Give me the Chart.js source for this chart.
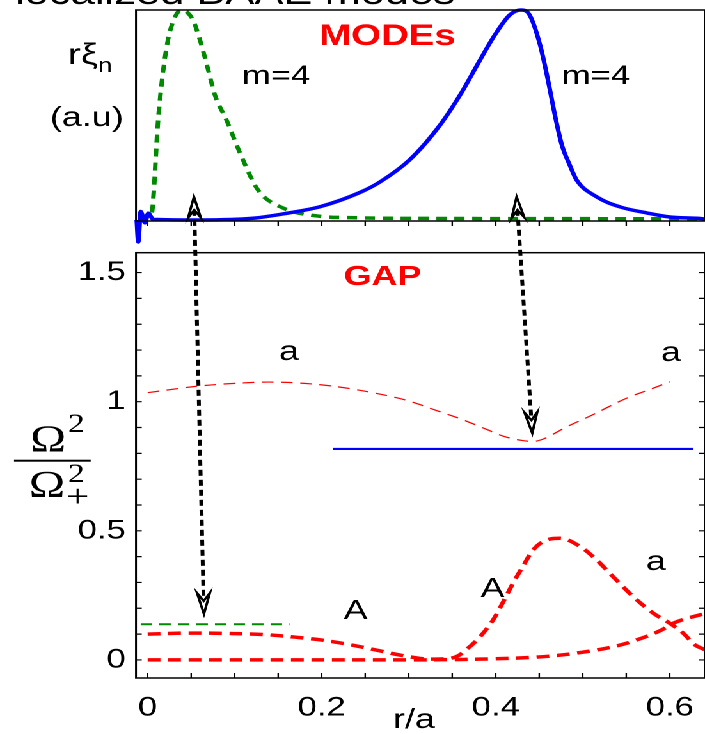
<!DOCTYPE html>
<html>
<head>
<meta charset="utf-8">
<script src="https://cdn.jsdelivr.net/npm/chart.js@4"></script>
<style>
  html, body { margin: 0; padding: 0; background: #fff; }
  body { width: 705px; height: 734px; overflow: hidden; position: relative; }
  #stage { position: absolute; left: 0; top: 0; width: 551px; height: 734px; transform: scaleX(1.27949); transform-origin: 0 0; }
  .layer { position: absolute; left: 0; top: 0; width: 551px; height: 734px; }
</style>
</head>
<body>
<div id="stage">
  <div class="layer"><canvas id="modes" width="551" height="734"></canvas></div>
  <div class="layer"><canvas id="gap" width="551" height="734"></canvas></div>
</div>
<script>
// top panel: mode structures r*xi_n (a.u.)
var greenModeR = [-0.0089, -0.002, 0.0026, 0.0049, 0.0072, 0.0095, 0.0118, 0.0153, 0.0187, 0.0233, 0.029, 0.0348, 0.0394, 0.0452, 0.0521, 0.0601, 0.0681, 0.0773, 0.0911, 0.1061, 0.1268, 0.1555, 0.1946, 0.2325, 0.3475, 0.52, 0.64];
var greenModeV = [0.005, 0.019, 0.014, 0.033, 0.143, 0.31, 0.462, 0.619, 0.738, 0.857, 0.943, 0.99, 1.0, 0.99, 0.952, 0.857, 0.738, 0.595, 0.471, 0.319, 0.143, 0.057, 0.019, 0.011, 0.007, 0.006, 0.005];
var blueModeR = [-0.0126, -0.0108, -0.008, -0.0031, 0.0007, 0.0064, 0.06, 0.121, 0.16, 0.198, 0.244, 0.267, 0.301, 0.336, 0.359, 0.382, 0.399, 0.416, 0.429, 0.439, 0.451, 0.46, 0.468, 0.476, 0.485, 0.493, 0.516, 0.543, 0.574, 0.6, 0.631, 0.64];
var blueModeV = [0, -0.105, 0.04, -0.014, 0.032, 0.003, 0, 0.008, 0.032, 0.063, 0.131, 0.181, 0.286, 0.452, 0.595, 0.762, 0.881, 0.976, 1.0, 0.976, 0.833, 0.667, 0.5, 0.357, 0.262, 0.19, 0.11, 0.062, 0.033, 0.014, 0.008, 0.005];

// bottom panel: gap structure Omega^2 / Omega_+^2
var upperGapR = [0, 0.06, 0.1, 0.14, 0.18, 0.22, 0.26, 0.3, 0.33, 0.36, 0.39, 0.41, 0.43, 0.443, 0.455, 0.48, 0.51, 0.55, 0.58, 0.6];
var upperGapV = [1.035, 1.061, 1.071, 1.076, 1.071, 1.057, 1.034, 1.003, 0.968, 0.933, 0.892, 0.865, 0.85, 0.846, 0.856, 0.9, 0.947, 1.013, 1.051, 1.077];
var lowerAR = [0, 0.05, 0.1, 0.14, 0.17, 0.2, 0.234, 0.26, 0.285, 0.305, 0.323, 0.34, 0.355, 0.368, 0.382, 0.397, 0.408, 0.42, 0.431, 0.443, 0.459, 0.474, 0.497, 0.516, 0.535, 0.558, 0.581, 0.6, 0.615, 0.629, 0.64];
var lowerAV = [0.1, 0.104, 0.102, 0.097, 0.088, 0.077, 0.058, 0.04, 0.022, 0.01, 0.003, 0.004, 0.013, 0.045, 0.09, 0.155, 0.221, 0.298, 0.361, 0.426, 0.465, 0.471, 0.439, 0.387, 0.322, 0.245, 0.181, 0.142, 0.105, 0.058, 0.04];
var lowerBR = [0, 0.1, 0.2, 0.3, 0.38, 0.43, 0.47, 0.5, 0.534, 0.56, 0.59, 0.604, 0.64];
var lowerBV = [0, 0, 0, 0, 0.003, 0.008, 0.017, 0.03, 0.05, 0.075, 0.115, 0.142, 0.18];
var blueFreqR = [0.213, 0.627];
var blueFreqV = [0.817, 0.817];
var greenFreqR = [-0.008, 0.163];
var greenFreqV = [0.138, 0.138];

// arrows: mode peak (top) -> frequency (bottom)
var arrowTopR = [0.0532, 0.424];
var arrowTopV = [0.11, 0.11];
var arrowBotR = [0.0647, 0.442];
var arrowBotV = [0.178, 0.878];

var xTickValues = [0, 0.2, 0.4, 0.6];
var xTickLabels = ["0", "0.2", "0.4", "0.6"];
var yTickValues = [0, 0.5, 1, 1.5];
var yTickLabels = ["0", "0.5", "1", "1.5"];

var S = 705 / 551;
var SANS = "'Liberation Sans', Arial, sans-serif";
var SERIF = "'Liberation Serif', 'Times New Roman', serif";
var AXIS_W = 136 / S;

function ix(x) { return x / S; }
function pts(xs, ys) {
  return xs.map(function (x, i) { return { x: x, y: ys[i] }; });
}
function pick(values, labels) {
  return function (v) {
    for (var i = 0; i < values.length; i++) {
      if (Math.abs(values[i] - v) < 1e-6) return labels[i];
    }
    return "";
  };
}
function curve(xs, ys, color, width, dash, extra) {
  var d = {
    data: pts(xs, ys),
    borderColor: color,
    borderWidth: width,
    borderDash: dash || [],
    pointRadius: 0,
    fill: false,
    cubicInterpolationMode: "monotone"
  };
  for (var k in extra || {}) d[k] = extra[k];
  return d;
}
function txt(ctx, s, x, y, font, color, align) {
  ctx.font = font;
  ctx.fillStyle = color || "#000";
  ctx.textAlign = align || "left";
  ctx.textBaseline = "alphabetic";
  ctx.fillText(s, ix(x), y);
}
function fitY(s) { s.width = AXIS_W; s.paddingTop = 0; s.paddingBottom = 0; }

function frame(chart, tickDirX, sideTicks) {
  var ctx = chart.ctx, a = chart.chartArea;
  ctx.save();
  ctx.strokeStyle = "#000";
  ctx.lineWidth = 1.5;
  ctx.strokeRect(a.left, a.top, a.right - a.left, a.bottom - a.top);
  ctx.lineWidth = 1.2;
  ctx.beginPath();
  chart.scales.x.ticks.forEach(function (t) {
    var p = chart.scales.x.getPixelForValue(t.value);
    ctx.moveTo(p, a.bottom);
    ctx.lineTo(p, a.bottom + tickDirX * 5);
  });
  if (sideTicks) {
    chart.scales.y.ticks.forEach(function (t) {
      var p = chart.scales.y.getPixelForValue(t.value);
      ctx.moveTo(a.left, p);
      ctx.lineTo(a.left + 4.5, p);
      ctx.moveTo(a.right, p);
      ctx.lineTo(a.right - 4.5, p);
    });
  }
  ctx.stroke();
  ctx.restore();
}

function arrow(ctx, x1, y1, x2, y2) {
  var dx = x2 - x1, dy = y2 - y1, len = Math.sqrt(dx * dx + dy * dy);
  var ux = dx / len, uy = dy / len, hl = 21, hw = 5, notch = 13;
  ctx.save();
  ctx.strokeStyle = "#000";
  ctx.lineWidth = 3;
  ctx.setLineDash([6, 4]);
  ctx.beginPath();
  ctx.moveTo(x1 + ux * notch, y1 + uy * notch);
  ctx.lineTo(x2 - ux * notch, y2 - uy * notch);
  ctx.stroke();
  ctx.setLineDash([]);
  ctx.lineWidth = 2;
  ctx.fillStyle = "#fff";
  function head(tx, ty, vx, vy) {
    var bx = tx + vx * hl, by = ty + vy * hl;
    ctx.beginPath();
    ctx.moveTo(tx, ty);
    ctx.lineTo(bx - vy * hw, by + vx * hw);
    ctx.lineTo(tx + vx * notch, ty + vy * notch);
    ctx.lineTo(bx + vy * hw, by - vx * hw);
    ctx.closePath();
    ctx.fill();
    ctx.stroke();
  }
  head(x1, y1, ux, uy);
  head(x2, y2, -ux, -uy);
  ctx.restore();
}

var xScale = {
  type: "linear",
  min: -0.0134,
  max: 0.6405,
  grid: { display: false },
  border: { display: false },
  ticks: { stepSize: 0.05, includeBounds: false }
};

var modesChart = new Chart(document.getElementById("modes"), {
  type: "line",
  data: {
    datasets: [
      curve(blueModeR, blueModeV, "#0000ff", 3.5, [], { clip: false }),
      curve(greenModeR, greenModeV, "#008a00", 3.5, [8, 6])
    ]
  },
  options: {
    responsive: false,
    animation: false,
    devicePixelRatio: 2,
    layout: { padding: { left: 0, right: 0, top: 10, bottom: 513 } },
    plugins: { legend: { display: false }, tooltip: { enabled: false } },
    scales: {
      x: Object.assign({}, xScale, {
        ticks: { stepSize: 0.05, includeBounds: false, display: true, callback: function () { return ""; } },
        afterFit: function (s) { s.height = 0; s.paddingLeft = 0; s.paddingRight = 0; }
      }),
      y: {
        type: "linear", min: -0.005, max: 1.0,
        grid: { display: false }, border: { display: false },
        ticks: { display: false },
        afterFit: fitY
      }
    }
  },
  plugins: [{
    id: "modesDeco",
    afterDraw: function (chart) {
      var ctx = chart.ctx;
      frame(chart, 1, false);
      ctx.save();
      txt(ctx, "localized BAAE modes", 15, 4, "34px " + SANS);
      txt(ctx, "MODEs", 387.5, 45, "bold 30px " + SANS, "#ff0000", "center");
      txt(ctx, "m=4", 276, 84, "27px " + SANS, "#000", "center");
      txt(ctx, "m=4", 596, 84, "27px " + SANS, "#000", "center");
      txt(ctx, "r\u03be", 68, 64, "30px " + SANS);
      ctx.font = "30px " + SANS;
      var w = ctx.measureText("r\u03be").width;
      ctx.font = "20px " + SANS;
      ctx.fillText("n", ix(68) + w, 72);
      txt(ctx, "(a.u)", 50, 126, "28px " + SANS);
      ctx.restore();
    }
  }]
});

var gapChart = new Chart(document.getElementById("gap"), {
  type: "line",
  data: {
    datasets: [
      curve(upperGapR, upperGapV, "#ff0000", 1.2, [9, 6]),
      curve(blueFreqR, blueFreqV, "#0000ff", 2.2, []),
      curve(greenFreqR, greenFreqV, "#008a00", 2, [9, 5.5]),
      curve(lowerAR, lowerAV, "#ff0000", 3.5, [10, 6]),
      curve(lowerBR, lowerBV, "#ff0000", 3.5, [10, 6])
    ]
  },
  options: {
    responsive: false,
    animation: false,
    devicePixelRatio: 2,
    layout: { padding: { left: 0, right: 0, top: 252.7, bottom: 0 } },
    plugins: { legend: { display: false }, tooltip: { enabled: false } },
    scales: {
      x: Object.assign({}, xScale, {
        ticks: {
          stepSize: 0.05, includeBounds: false, padding: 6, maxRotation: 0, autoSkip: false,
          color: "#000", font: { family: SANS, size: 27 },
          callback: pick(xTickValues, xTickLabels)
        },
        afterFit: function (s) { s.height = 56; s.paddingLeft = 0; s.paddingRight = 0; }
      }),
      y: {
        type: "linear", min: -0.07, max: 1.577,
        grid: { display: false }, border: { display: false },
        ticks: {
          stepSize: 0.1, includeBounds: false, padding: 0, autoSkip: false,
          color: "#000", font: { family: SANS, size: 27 },
          callback: pick(yTickValues, yTickLabels)
        },
        afterFit: fitY
      }
    }
  },
  plugins: [{
    id: "gapDeco",
    afterDraw: function (chart) {
      var ctx = chart.ctx;
      frame(chart, -1, true);
      ctx.save();
      txt(ctx, "GAP", 382.5, 285, "bold 28px " + SANS, "#ff0000", "center");
      txt(ctx, "a", 289, 360, "28px " + SANS, "#000", "center");
      txt(ctx, "a", 671, 361, "28px " + SANS, "#000", "center");
      txt(ctx, "A", 355.6, 619, "28px " + SANS, "#000", "center");
      txt(ctx, "A", 492.5, 597, "28px " + SANS, "#000", "center");
      txt(ctx, "a", 656, 570, "28px " + SANS, "#000", "center");
      txt(ctx, "r/a", 414, 728, "28px " + SANS, "#000", "center");
      // y-axis title: Omega^2 / Omega_+^2
      txt(ctx, "\u03a9", 30, 451.7, "38px " + SERIF);
      txt(ctx, "2", 68, 432, "26px " + SERIF);
      ctx.fillStyle = "#000";
      ctx.fillRect(ix(14), 459.7, ix(90.7) - ix(14), 2);
      txt(ctx, "\u03a9", 29, 497, "38px " + SERIF);
      txt(ctx, "2", 68, 482, "26px " + SERIF);
      txt(ctx, "+", 66, 507, "32px " + SERIF);
      // arrows linking mode peaks to their frequencies
      var tx = modesChart.scales.x, ty = modesChart.scales.y;
      var bx = chart.scales.x, by = chart.scales.y;
      for (var i = 0; i < arrowTopR.length; i++) {
        arrow(ctx,
          tx.getPixelForValue(arrowTopR[i]), ty.getPixelForValue(arrowTopV[i]),
          bx.getPixelForValue(arrowBotR[i]), by.getPixelForValue(arrowBotV[i]));
      }
      ctx.restore();
    }
  }]
});
</script>
</body>
</html>
